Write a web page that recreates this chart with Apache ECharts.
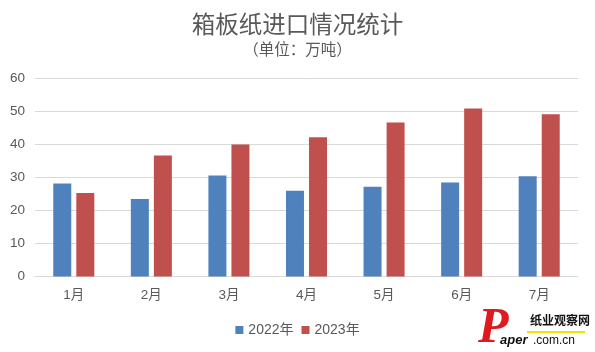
<!DOCTYPE html>
<html><head><meta charset="utf-8">
<script src="https://cdn.jsdelivr.net/npm/echarts@6/dist/echarts.min.js"></script>
<style>html,body{margin:0;padding:0;background:#fff}#c{width:595px;height:352px}</style>
</head><body><div id="c"></div>
<script>
const categories = ['1月','2月','3月','4月','5月','6月','7月'];
const seriesNames = ['2022年','2023年'];
const values2022 = [28.2, 23.5, 30.6, 26.0, 27.2, 28.5, 30.4];
const values2023 = [25.3, 36.7, 40.0, 42.2, 46.7, 50.9, 49.2];
const yTicks = [0, 10, 20, 30, 40, 50, 60];

const txt = '#595959';
const ff = '"Liberation Sans", "Noto Sans CJK SC", sans-serif';
const chart = echarts.init(document.getElementById('c'));
chart.setOption({
  animation: false,
  backgroundColor: '#fff',
  title: [
    { text: '箱板纸进口情况统计', left: 'center', top: 7,
      textStyle: { fontSize: 23.5, fontWeight: 'normal', color: txt, fontFamily: '"Noto Sans CJK SC", sans-serif' } },
    { text: '（单位：万吨）', left: 'center', top: 36,
      textStyle: { fontSize: 15.5, fontWeight: 'normal', color: txt, fontFamily: '"Noto Sans CJK SC", sans-serif' } }
  ],
  legend: {
    data: seriesNames, bottom: 10, left: 'center', icon: 'rect',
    itemWidth: 8, itemHeight: 8, itemGap: 8,
    textStyle: { fontSize: 14, color: txt, fontFamily: ff }
  },
  grid: { left: 35, right: 17, top: 78.5, bottom: 75.5 },
  xAxis: {
    type: 'category', data: categories,
    axisLine: { lineStyle: { color: '#D9D9D9' } },
    axisTick: { show: false },
    axisLabel: { color: txt, fontSize: 13.5, margin: 12, fontFamily: ff }
  },
  yAxis: {
    type: 'value', min: yTicks[0], max: yTicks[yTicks.length - 1], interval: 10,
    axisLine: { show: false }, axisTick: { show: false },
    axisLabel: { color: txt, fontSize: 13.5, margin: 10, fontFamily: ff },
    splitLine: { lineStyle: { color: '#D9D9D9' } }
  },
  series: [
    { name: seriesNames[0], type: 'bar', data: values2022, barWidth: 18, barGap: '28%',
      itemStyle: { color: '#4F81BD' } },
    { name: seriesNames[1], type: 'bar', data: values2023, barWidth: 18, barGap: '28%',
      itemStyle: { color: '#C0504D' } }
  ],
  graphic: [
    { type: 'text', left: 478, top: 304, skewX: 0,
      style: { text: 'P', fontSize: 50, fontStyle: 'italic', fontWeight: 'bold', fill: '#E0191E', fontFamily: '"Liberation Serif", serif' } },
    { type: 'text', left: 530, top: 314,
      style: { text: '纸业观察网', fontSize: 12, fontWeight: 'bold', fill: '#111', fontFamily: '"Noto Sans CJK SC", sans-serif' } },
    { type: 'rect', shape: { x: 527, y: 331, width: 58, height: 2 }, style: { fill: '#F2E200' } },
    { type: 'text', left: 500, top: 334,
      style: { text: 'aper', fontSize: 13, fontStyle: 'italic', fontWeight: 'bold', fill: '#111', fontFamily: '"Liberation Sans", sans-serif' } },
    { type: 'text', left: 533, top: 335,
      style: { text: '.com.cn', fontSize: 12, fill: '#111', fontFamily: '"Liberation Sans", sans-serif' } }
  ]
});
</script></body></html>
